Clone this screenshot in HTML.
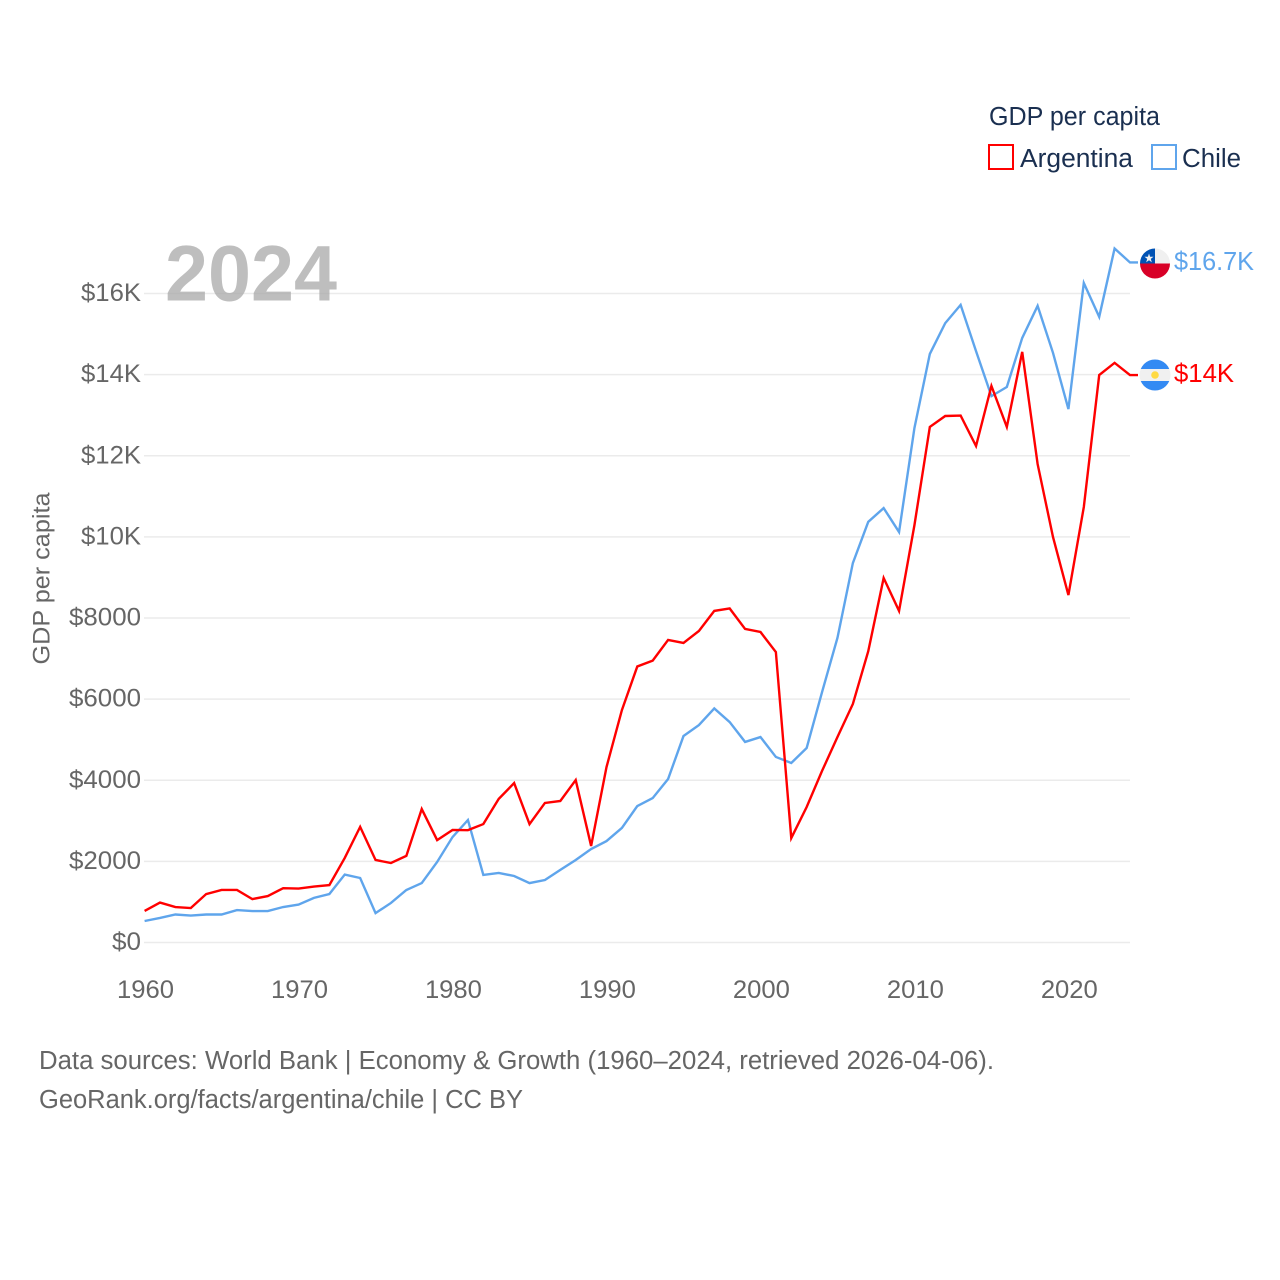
<!DOCTYPE html>
<html lang="en">
<head>
<meta charset="utf-8">
<title>GDP per capita: Argentina and Chile</title>
<style>
html,body{margin:0;padding:0;background:#fff;}
svg{display:block;font-family:"Liberation Sans",sans-serif;}
</style>
</head>
<body>
<svg id="chart" width="1280" height="1280" viewBox="0 0 1280 1280" xmlns="http://www.w3.org/2000/svg">
  <defs>
    <clipPath id="flag-clip-cl"><circle cx="1155" cy="263.5" r="15"/></clipPath>
    <clipPath id="flag-clip-ar"><circle cx="1155" cy="375" r="15.5"/></clipPath>
  </defs>
  <g id="grid"></g>
  <text x="165" y="300.5" font-size="79" font-weight="700" fill="#a8a8a8" fill-opacity="0.75" textLength="172" lengthAdjust="spacingAndGlyphs">2024</text>
  <g id="y-axis"></g>
  <g id="x-axis"></g>
  <text transform="translate(49.5,578.5) rotate(-90)" text-anchor="middle" font-size="24.5" fill="#666" textLength="172" lengthAdjust="spacingAndGlyphs">GDP per capita</text>
  <g id="series"></g>

  <g clip-path="url(#flag-clip-cl)">
    <rect x="1139" y="248" width="32" height="15.5" fill="#f0f0f0"/>
    <rect x="1139" y="263.5" width="32" height="16" fill="#d80027"/>
    <rect x="1139" y="248" width="16" height="15.5" fill="#0052b4"/>
    <polygon points="1149,253.5 1150.1,256.8 1153.5,256.8 1150.8,258.9 1151.8,262.2 1149,260.2 1146.2,262.2 1147.2,258.9 1144.5,256.8 1147.9,256.8" fill="#f0f0f0"/>
  </g>
  <g clip-path="url(#flag-clip-ar)">
    <rect x="1139" y="359" width="32" height="32" fill="#f0f0f0"/>
    <rect x="1139" y="359" width="32" height="10" fill="#338af3"/>
    <rect x="1139" y="381" width="32" height="10" fill="#338af3"/>
    <circle cx="1155" cy="375" r="3.8" fill="#ffda44"/>
  </g>
  <text x="1174" y="270" font-size="25.5" fill="#5fa5ec" textLength="80" lengthAdjust="spacingAndGlyphs">$16.7K</text>
  <text x="1174" y="382" font-size="25.5" fill="#ff0000" textLength="60" lengthAdjust="spacingAndGlyphs">$14K</text>

  <text x="989" y="125" font-size="25.5" fill="#1a2f50" textLength="171" lengthAdjust="spacingAndGlyphs">GDP per capita</text>
  <g>
    <rect x="989" y="145" width="24" height="24" fill="none" stroke="#ff0000" stroke-width="2"/>
    <text x="1020" y="167" font-size="25.5" fill="#1a2f50" textLength="113" lengthAdjust="spacingAndGlyphs">Argentina</text>
  </g>
  <g>
    <rect x="1152" y="145" width="24" height="24" fill="none" stroke="#5fa5ec" stroke-width="2"/>
    <text x="1182" y="167" font-size="25.5" fill="#1a2f50" textLength="59" lengthAdjust="spacingAndGlyphs">Chile</text>
  </g>

  <text x="39" y="1069" font-size="25.5" fill="#666" textLength="955" lengthAdjust="spacingAndGlyphs">Data sources: World Bank | Economy &amp; Growth (1960–2024, retrieved 2026-04-06).</text>
  <text x="39" y="1108" font-size="25.5" fill="#666" textLength="484" lengthAdjust="spacingAndGlyphs">GeoRank.org/facts/argentina/chile | CC BY</text>
</svg>
<script>
const years = [1960,1961,1962,1963,1964,1965,1966,1967,1968,1969,1970,1971,1972,1973,1974,1975,1976,1977,1978,1979,1980,1981,1982,1983,1984,1985,1986,1987,1988,1989,1990,1991,1992,1993,1994,1995,1996,1997,1998,1999,2000,2001,2002,2003,2004,2005,2006,2007,2008,2009,2010,2011,2012,2013,2014,2015,2016,2017,2018,2019,2020,2021,2022,2023,2024];
const argentina = [777,985,875,850,1195,1295,1295,1070,1145,1340,1330,1380,1415,2085,2850,2035,1960,2135,3290,2525,2775,2770,2920,3540,3930,2920,3440,3490,4005,2380,4325,5730,6805,6950,7460,7385,7680,8175,8235,7730,7655,7160,2575,3340,4230,5065,5880,7180,8985,8175,10290,12710,12980,12990,12240,13720,12710,14560,11795,9995,8565,10735,13990,14290,13990];
const chile = [530,605,690,665,690,690,800,775,775,875,935,1100,1195,1675,1590,725,975,1295,1465,1985,2600,3020,1665,1715,1640,1465,1540,1790,2035,2305,2500,2825,3365,3560,4030,5090,5360,5770,5435,4945,5065,4575,4425,4795,6175,7510,9355,10370,10710,10120,12685,14510,15270,15720,14580,13470,13695,14905,15695,14535,13150,16260,15425,17110,16765];
const yTickValues = [0,2000,4000,6000,8000,10000,12000,14000,16000];
const yTickLabels = ["$0","$2000","$4000","$6000","$8000","$10K","$12K","$14K","$16K"];
const xTickValues = [1960,1970,1980,1990,2000,2010,2020];
const xTickLabels = ["1960","1970","1980","1990","2000","2010","2020"];

const NS = "http://www.w3.org/2000/svg";
const xScale = function (year) { return 144.6 + (year - 1960) * (1130 - 144.6) / 64; };
const yScale = function (value) { return 942.5 - value * (942.5 - 293.5) / 16000; };

function make(tag, parent, attrs, text) {
  const el = document.createElementNS(NS, tag);
  for (const k in attrs) el.setAttribute(k, attrs[k]);
  if (text !== undefined) el.textContent = text;
  parent.appendChild(el);
  return el;
}

const gridGroup = document.getElementById("grid");
const yAxisGroup = document.getElementById("y-axis");
const xAxisGroup = document.getElementById("x-axis");
const seriesGroup = document.getElementById("series");

function tickLabelWidth(text) {
  if (text.length === 2) return 29;
  return text.endsWith("K") ? 60 : 72;
}

yTickValues.forEach(function (v, i) {
  const y = yScale(v);
  const line = make("line", gridGroup, { x1: 144, x2: 1130, y1: y, y2: y, stroke: "#ebebeb", "stroke-width": 1.5 });
  
  
  const label = make("text", yAxisGroup, { x: 141, y: y + 7.5, "text-anchor": "end", "font-size": 25, fill: "#666", textLength: tickLabelWidth(yTickLabels[i]), lengthAdjust: "spacingAndGlyphs" }, yTickLabels[i]);
  
  
});

xTickValues.forEach(function (v, i) {
  const label = make("text", xAxisGroup, { x: xScale(v) + 0.9, y: 998, "text-anchor": "middle", "font-size": 25, fill: "#666", textLength: 57, lengthAdjust: "spacingAndGlyphs" }, xTickLabels[i]);
  
  
});

function seriesPoints(values) {
  const pts = values.map(function (v, i) { return xScale(years[i]).toFixed(2) + "," + yScale(v).toFixed(2); });
  pts.push("1138," + yScale(values[values.length - 1]).toFixed(2));
  return pts.join(" ");
}

const chileLine = make("polyline", seriesGroup, { points: seriesPoints(chile), fill: "none", stroke: "#5fa5ec", "stroke-width": 2.4, "stroke-linejoin": "miter" });


const argentinaLine = make("polyline", seriesGroup, { points: seriesPoints(argentina), fill: "none", stroke: "#ff0000", "stroke-width": 2.4, "stroke-linejoin": "miter" });


</script>
</body>
</html>
